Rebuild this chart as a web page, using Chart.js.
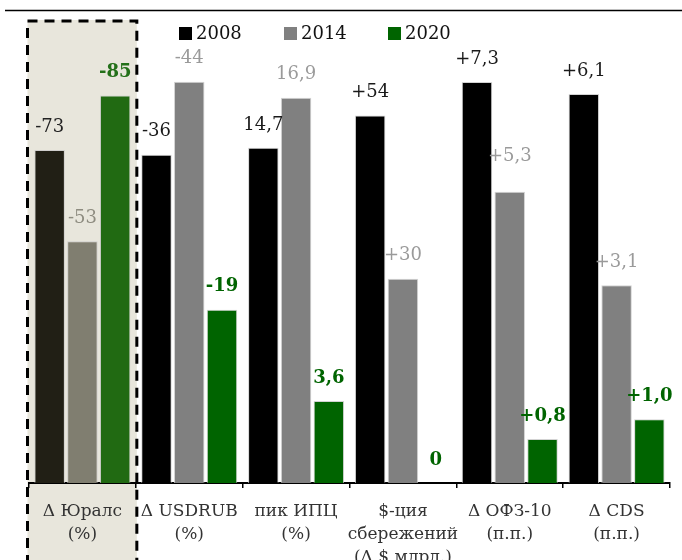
<!DOCTYPE html>
<html>
<head>
<meta charset="utf-8">
<script src="https://cdn.jsdelivr.net/npm/chart.js@4.4.1/dist/chart.umd.min.js"></script>
<style>
  body { margin: 0; background: #fff; }
  #wrap { width: 682px; height: 560px; }
</style>
</head>
<body>
<div id="wrap"><canvas id="myChart" width="682" height="560"></canvas></div>
<script>
const categories = [
  ["Δ Юралс", "(%)"],
  ["Δ USDRUB", "(%)"],
  ["пик ИПЦ", "(%)"],
  ["$-ция", "сбережений", "(Δ $ млрд.)"],
  ["Δ ОФЗ-10", "(п.п.)"],
  ["Δ CDS", "(п.п.)"]
];
const years = ["2008", "2014", "2020"];
const values2008 = [-73, -36, 14.7, 54, 7.3, 6.1];
const values2014 = [-53, -44, 16.9, 30, 5.3, 3.1];
const values2020 = [-85, -19, 3.6, 0, 0.8, 1.0];

// every group has its own scale: the value that would reach the top of the plot
const groupMax = [100, 50, 20, 67, 8.3, 7.15];
const decimals = [0, 0, 1, 0, 1, 1];
const showPlus = [false, false, false, true, true, true];

const SERIF = "'DejaVu Serif', serif";
const barColors = ["#000000", "#808080", "#006400"];
const hiBarColors = ["#211f15", "#807e70", "#216a12"];
const labelColors = ["#1a1a1a", "#9a9a9a", "#006400"];
const hiLabelColors = ["#222222", "#8e8c80", "#237019"];
const rawValues = [values2008, values2014, values2020];

function fmt(v, i) {
  if (v === 0) return "0";
  let s = Math.abs(v).toFixed(decimals[i]).replace(".", ",");
  if (v < 0) return "-" + s;
  return (showPlus[i] ? "+" : "") + s;
}

function scaled(values) {
  return values.map((v, i) => Math.abs(v) / groupMax[i]);
}

const datasets = rawValues.map((vals, d) => ({
  label: years[d],
  data: scaled(vals),
  backgroundColor: vals.map((v, i) => i === 0 ? hiBarColors[d] : barColors[d]),
  borderColor: "rgba(200,200,200,0.8)",
  borderWidth: 1,
  categoryPercentage: 0.92,
  barPercentage: 0.93
}));

// beige panel behind the first group, dashed frame on top
const highlight = {
  id: "highlight",
  bounds(chart) {
    const x = chart.scales.x;
    const w = (x.right - x.left) / categories.length;
    return { left: x.getPixelForValue(0) - w / 2 - 1.5, right: x.getPixelForValue(0) + w / 2 + 1 };
  },
  beforeDraw(chart) {
    const { ctx } = chart;
    const b = this.bounds(chart);
    ctx.save();
    ctx.fillStyle = "#e8e6dc";
    ctx.fillRect(b.left, 20, b.right - b.left, chart.height);
    ctx.restore();
  },
  afterDraw(chart) {
    const { ctx } = chart;
    const b = this.bounds(chart);
    ctx.save();
    ctx.strokeStyle = "#000";
    ctx.lineWidth = 3;
    ctx.setLineDash([10, 7]);
    ctx.beginPath();
    ctx.moveTo(b.left, chart.height + 5);
    ctx.lineTo(b.left, 21);
    ctx.lineTo(b.right, 21);
    ctx.lineTo(b.right, chart.height + 5);
    ctx.stroke();
    ctx.restore();

    // rule across the top
    ctx.save();
    ctx.strokeStyle = "#000";
    ctx.lineWidth = 1.5;
    ctx.beginPath();
    ctx.moveTo(5, 10.5);
    ctx.lineTo(chart.width, 10.5);
    ctx.stroke();
    ctx.restore();
  }
};

// value labels above the bars
const barLabels = {
  id: "barLabels",
  afterDatasetsDraw(chart, args, opts) {
    const { ctx } = chart;
    ctx.save();
    ctx.textAlign = "center";
    ctx.textBaseline = "middle";
    chart.data.datasets.forEach((ds, d) => {
      const meta = chart.getDatasetMeta(d);
      meta.data.forEach((bar, i) => {
        const bold = d === 2;
        ctx.font = (bold ? "bold 18px " : "18px ") + SERIF;
        ctx.fillStyle = i === 0 ? hiLabelColors[d] : labelColors[d];
        let lift = 23;
        if (opts.extraLift[d + ":" + i]) lift += opts.extraLift[d + ":" + i];
        ctx.fillText(fmt(rawValues[d][i], i), bar.x, bar.y - lift);
      });
    });
    ctx.restore();
  }
};

// legend row: small squares with the year
const yearLegend = {
  id: "yearLegend",
  afterDraw(chart) {
    const { ctx } = chart;
    const starts = [179, 284, 388];
    ctx.save();
    ctx.font = "18px " + SERIF;
    ctx.textBaseline = "middle";
    ctx.textAlign = "left";
    years.forEach((y, d) => {
      ctx.fillStyle = barColors[d];
      ctx.fillRect(starts[d], 27, 13, 13);
      ctx.fillStyle = "#111";
      ctx.fillText(y, starts[d] + 17, 34);
    });
    ctx.restore();
  }
};

new Chart(document.getElementById("myChart"), {
  type: "bar",
  data: { labels: categories, datasets: datasets },
  options: {
    responsive: false,
    animation: false,
    layout: { padding: { left: 29, right: 12, top: 27, bottom: 0 } },
    plugins: {
      legend: { display: false },
      tooltip: { enabled: false },
      barLabels: { extraLift: { "1:4": 12 } }
    },
    scales: {
      x: {
        afterFit(scale) { scale.height = 77; },
        grid: {
          offset: true,
          drawOnChartArea: false,
          drawTicks: true,
          tickLength: 5,
          color: "#000",
          lineWidth: 1.5
        },
        border: { display: true, color: "#000", width: 2 },
        ticks: {
          color: "#333",
          padding: 12,
          maxRotation: 0,
          autoSkip: false,
          font: { family: SERIF, size: 17, lineHeight: 1.35 }
        }
      },
      y: { display: false, min: 0, max: 1 }
    }
  },
  plugins: [highlight, barLabels, yearLegend]
});
</script>
</body>
</html>
